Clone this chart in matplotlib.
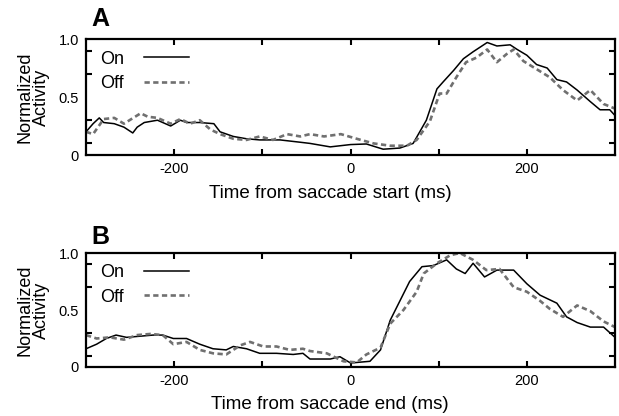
import numpy as np
import matplotlib
matplotlib.use("Agg")
import matplotlib.pyplot as plt

plt.rcParams['font.family'] = ['Liberation Sans', 'DejaVu Sans']

# panel A - aligned on saccade start
a_on_t = [-300, -292, -285, -280, -268, -257, -247, -242, -234, -219, -204, -193, -186, -171, -155,
          -148, -133, -118, -103, -80, -57, -46, -23, 0, 18, 37, 56, 71, 86, 98, 105, 117, 128, 139,
          147, 155, 166, 181, 189, 200, 211, 223, 234, 245, 257, 272, 283, 294, 300]
a_on_v = [0.20, 0.27, 0.32, 0.28, 0.27, 0.24, 0.19, 0.24, 0.28, 0.30, 0.25, 0.30, 0.28, 0.28, 0.27,
          0.20, 0.16, 0.14, 0.13, 0.13, 0.11, 0.10, 0.07, 0.09, 0.095, 0.05, 0.06, 0.10, 0.30, 0.57,
          0.63, 0.73, 0.83, 0.89, 0.93, 0.97, 0.94, 0.95, 0.91, 0.86, 0.78, 0.75, 0.65, 0.63, 0.56,
          0.46, 0.39, 0.39, 0.34]
a_off_t = [-300, -292, -280, -268, -257, -238, -230, -219, -204, -193, -182, -171, -159, -148, -133,
           -118, -103, -88, -72, -57, -46, -30, -11, 7, 26, 45, 64, 75, 90, 101, 109, 120, 131, 143,
           155, 166, 177, 185, 196, 211, 226, 241, 257, 272, 287, 300]
a_off_v = [0.20, 0.18, 0.31, 0.32, 0.27, 0.36, 0.33, 0.32, 0.27, 0.31, 0.27, 0.30, 0.22, 0.18, 0.14,
           0.13, 0.16, 0.13, 0.18, 0.16, 0.18, 0.16, 0.18, 0.14, 0.10, 0.08, 0.08, 0.13, 0.29, 0.53,
           0.53, 0.67, 0.80, 0.84, 0.91, 0.80, 0.87, 0.91, 0.81, 0.74, 0.67, 0.56, 0.47, 0.56, 0.44,
           0.40]

# panel B - aligned on saccade end
b_on_t = [-300, -288, -277, -266, -254, -239, -224, -213, -201, -186, -171, -156, -141, -133, -118,
          -103, -84, -65, -54, -46, -23, -12, 0, 22, 34, 45, 56, 67, 81, 94, 109, 120, 130, 139, 152,
          166, 185, 200, 215, 234, 245, 257, 272, 287, 300]
b_on_v = [0.16, 0.20, 0.25, 0.28, 0.26, 0.27, 0.28, 0.28, 0.25, 0.25, 0.20, 0.16, 0.15, 0.18, 0.16,
          0.12, 0.12, 0.11, 0.12, 0.07, 0.07, 0.09, 0.035, 0.05, 0.15, 0.41, 0.58, 0.75, 0.88, 0.89,
          0.94, 0.86, 0.82, 0.91, 0.79, 0.85, 0.85, 0.73, 0.63, 0.56, 0.44, 0.39, 0.35, 0.35, 0.26]
b_off_t = [-300, -288, -273, -257, -242, -227, -213, -201, -186, -171, -156, -141, -125, -114, -99,
           -84, -69, -54, -46, -27, -8, 7, 18, 34, 45, 60, 75, 83, 98, 113, 124, 139, 154, 169, 185,
           200, 215, 226, 241, 257, 272, 287, 300]
b_off_v = [0.28, 0.25, 0.26, 0.24, 0.28, 0.29, 0.28, 0.20, 0.22, 0.15, 0.12, 0.11, 0.19, 0.22, 0.18,
           0.18, 0.15, 0.16, 0.14, 0.12, 0.05, 0.04, 0.11, 0.17, 0.38, 0.50, 0.66, 0.82, 0.91, 0.98,
           1.0, 0.94, 0.85, 0.86, 0.70, 0.66, 0.58, 0.51, 0.44, 0.54, 0.49, 0.40, 0.35]

panels = [
    ("A", "Time from saccade start (ms)", a_on_t, a_on_v, a_off_t, a_off_v, [0.139, 0.6274, 0.8546, 0.2788], 0.955),
    ("B", "Time from saccade end (ms)", b_on_t, b_on_v, b_off_t, b_off_v, [0.139, 0.1178, 0.8546, 0.274], 0.43),
]

fig = plt.figure(figsize=(6.19, 4.16), dpi=100)

for letter, xlab, t1, v1, t2, v2, rect, ly in panels:
    ax = fig.add_axes(rect)
    ax.plot(t1, v1, color="black", lw=1.1, label="On")
    ax.plot(t2, v2, color="#707070", lw=1.9, linestyle=(0, (2.0, 1.3)), label="Off")
    ax.set_xlim(-300, 300)
    ax.set_ylim(0, 1.0)

    ax.set_xticks([-200, -100, 0, 100, 200])
    ax.set_xticklabels(["-200", "", "0", "", "200"])
    ax.set_yticks([0, 0.5, 1.0])
    ax.set_yticklabels(["0", "0.5", "1.0"])
    ax.set_yticks([0.1, 0.3, 0.5, 0.7, 0.9], minor=True)
    ax.tick_params(axis="x", which="major", direction="in", length=4, width=1.5,
                   top=True, labelsize=10.5, pad=5)
    ax.tick_params(axis="y", which="major", length=0, labelsize=10.5, pad=5)
    ax.tick_params(axis="y", which="minor", direction="in", length=4, width=1.5,
                   left=True, right=True)
    for s in ax.spines.values():
        s.set_linewidth(1.6)

    ax.set_xlabel(xlab, fontsize=13.5)
    ax.xaxis.set_label_coords(0.461, -0.33)
    ax.xaxis.label.set_va("center")
    ax.set_ylabel("Normalized\nActivity", fontsize=13, linespacing=1.0)
    ax.yaxis.set_label_coords(-0.10, 0.5)
    ax.yaxis.label.set_va("center")

    ax.legend(loc="upper left", bbox_to_anchor=(0.026, 0.90), frameon=False, markerfirst=False,
              fontsize=13, handlelength=2.5, handletextpad=1.1, labelspacing=0.4,
              borderaxespad=0, borderpad=0)

    fig.text(0.162, ly, letter, fontsize=18, fontweight="bold", ha="center", va="center")

fig.savefig("out.png", dpi=100)
